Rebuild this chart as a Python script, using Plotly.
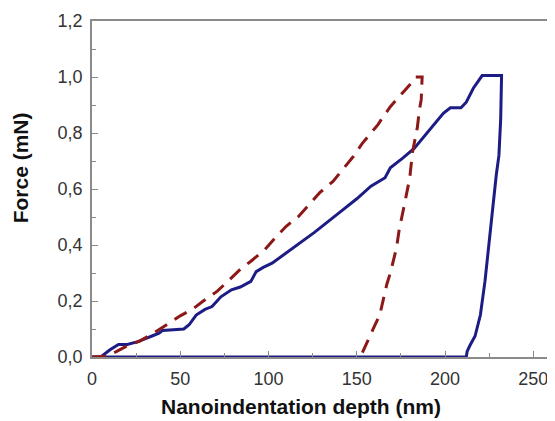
import plotly.graph_objects as go

# Blue sample (solid): loading then unloading, then baseline
blue_x = [0, 5, 10, 15, 20, 26, 34, 38, 40, 47, 52, 55, 59, 64, 68, 73, 79, 84, 90, 93, 97, 102,
          113, 126, 141, 150, 158, 166, 169, 176, 182.5, 190, 199, 203, 209, 212, 216, 221, 232,
          231.5, 230.5, 229, 228, 225, 222.6, 220, 217, 214, 212.5, 212, 100, 0]
blue_y = [0, 0.0, 0.025, 0.045, 0.045, 0.055, 0.075, 0.085, 0.095, 0.097, 0.1, 0.115, 0.15, 0.17,
          0.18, 0.215, 0.24, 0.25, 0.27, 0.305, 0.32, 0.335, 0.384, 0.445, 0.52, 0.565, 0.61, 0.64,
          0.676, 0.71, 0.745, 0.8, 0.87, 0.89, 0.89, 0.91, 0.96, 1.005, 1.005,
          0.85, 0.72, 0.65, 0.59, 0.41, 0.27, 0.15, 0.075, 0.04, 0.02, 0.0, 0.0, 0.0]

# Red sample (dashed): loading then unloading
red_x = [0, 8, 14, 20, 27, 34, 43, 50, 57, 63, 71, 78, 84, 90, 98, 104, 110, 117, 124, 129, 136.5,
         142, 148, 153, 158, 162, 164.6, 169, 176, 181.5, 183, 187,
         186.5, 185.4, 184.3, 183, 181.5, 180, 178.6, 177, 175.5, 174, 172.5, 171, 169, 167, 165,
         163, 160, 157, 154.5, 152]
red_y = [0, 0.003, 0.02, 0.04, 0.057, 0.082, 0.118, 0.147, 0.171, 0.2, 0.235, 0.278, 0.313, 0.342,
         0.384, 0.427, 0.467, 0.502, 0.552, 0.587, 0.627, 0.67, 0.716, 0.762, 0.8, 0.83, 0.855,
         0.894, 0.944, 0.983, 1.0, 1.0,
         0.92, 0.88, 0.82, 0.78, 0.73, 0.64, 0.59, 0.545, 0.5, 0.455, 0.39, 0.35, 0.3, 0.26, 0.2,
         0.15, 0.11, 0.07, 0.035, 0.0]

x_ticks = [0, 50, 100, 150, 200, 250]
y_ticks = [0.0, 0.2, 0.4, 0.6, 0.8, 1.0, 1.2]

fig = go.Figure()
fig.add_trace(go.Scatter(x=blue_x, y=blue_y, mode="lines",
                         line=dict(color="#1c1c85", width=3), showlegend=False))
fig.add_trace(go.Scatter(x=red_x, y=red_y, mode="lines",
                         line=dict(color="#8c1818", width=3, dash="14px,9px"), showlegend=False))

axis_common = dict(showgrid=False, zeroline=False, showline=True, mirror=True,
                   linecolor="#8a8a8a", linewidth=1.5, ticks="inside", ticklen=6,
                   tickwidth=1, tickcolor="#8a8a8a",
                   tickfont=dict(family="Liberation Sans, Arial, sans-serif", size=18, color="#333333"))

fig.update_xaxes(range=[0, 260], tickvals=x_ticks, ticklabelstandoff=5,
                 minor=dict(dtick=25, ticks="inside", ticklen=4, tickcolor="#8a8a8a"),
                 **axis_common)
fig.update_yaxes(range=[0, 1.2], tickvals=y_ticks, tickformat=".1f", ticklabelstandoff=4,
                 minor=dict(dtick=0.1, ticks="inside", ticklen=4, tickcolor="#8a8a8a"),
                 **axis_common)

# page has an 8px body margin: plot area spans x 92..553, y 21..357 in the window
PW, PH = 461, 336
title_font = dict(family="Liberation Sans, Arial, sans-serif", size=21, color="#111111")
fig.add_annotation(text="<b>Nanoindentation depth (nm)</b>", xref="paper", yref="paper",
                   x=(302 - 92) / PW, y=-(420 - 357) / PH, xanchor="center", yanchor="bottom",
                   showarrow=False, font=title_font)
fig.add_annotation(text="<b>Force (mN)</b>", xref="paper", yref="paper",
                   x=-(92 - 20) / PW, y=(357 - 168) / PH, xanchor="center", yanchor="middle",
                   textangle=-90, showarrow=False, font=title_font)

fig.update_layout(width=547, height=413, separators=",.",
                  margin=dict(l=84, r=2, t=13, b=64),
                  paper_bgcolor="white", plot_bgcolor="white")

fig.write_html("out.html")
